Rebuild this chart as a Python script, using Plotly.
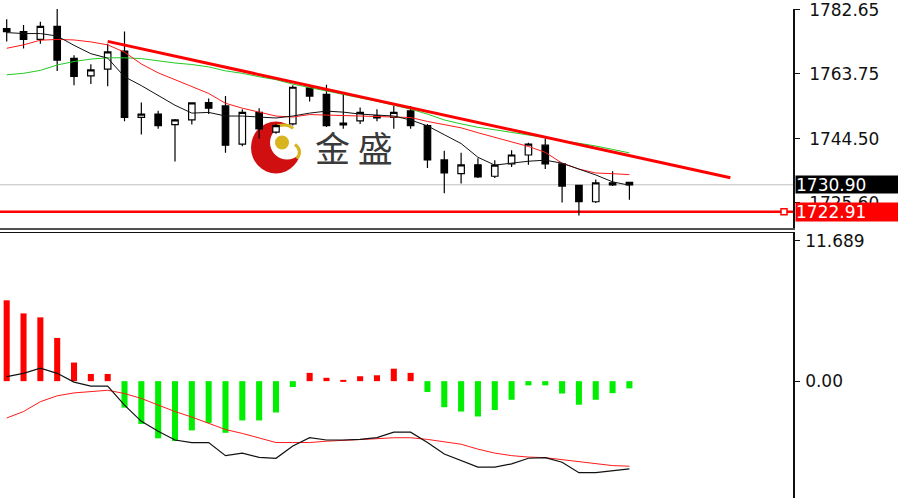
import plotly.graph_objects as go

W, H = 898, 498
PLOT_W = 793          # right edge of the plotting area (price axis line)
UPPER_BOTTOM = 223    # px, bottom of price panel
LOWER_TOP = 228       # px, top of MACD panel

# ---------------- data ----------------
bars = list(range(38))

open_ = [1777.12, 1776.25, 1773.93, 1777.79, 1768.32, 1763.17, 1765.12, 1770.44,
         1750.87, 1751.83, 1748.72, 1750.09, 1755.23, 1754.25, 1742.91, 1752.33,
         1746.51, 1748.93, 1759.59, 1757.65, 1749.13, 1749.80, 1751.34, 1750.87,
         1752.79, 1748.43, 1738.26, 1734.19, 1736.80, 1733.43, 1737.09, 1739.71,
         1742.62, 1737.09, 1730.70, 1725.87, 1731.48, 1731.60]
high = [1779.94, 1778.20, 1779.16, 1786.14, 1769.27, 1766.57, 1772.68, 1776.25,
        1755.23, 1752.79, 1750.38, 1755.30, 1756.48, 1757.15, 1753.29, 1753.58,
        1748.93, 1760.35, 1760.35, 1760.55, 1758.23, 1753.78, 1753.29, 1754.25,
        1754.25, 1748.93, 1740.99, 1740.41, 1738.75, 1738.20, 1741.16, 1743.32,
        1744.57, 1737.30, 1730.90, 1732.44, 1734.88, 1731.69]
low = [1773.34, 1771.22, 1772.68, 1764.62, 1760.35, 1760.76, 1760.06, 1749.71,
       1745.82, 1747.47, 1737.79, 1748.72, 1751.83, 1740.41, 1742.30, 1744.57,
       1746.02, 1748.43, 1755.52, 1747.97, 1747.47, 1748.93, 1749.71, 1747.47,
       1747.47, 1735.84, 1728.37, 1731.28, 1732.94, 1732.94, 1736.14, 1736.80,
       1735.55, 1725.67, 1721.80, 1725.47, 1730.52, 1726.45]
close = [1776.25, 1773.93, 1777.79, 1767.82, 1762.97, 1764.91, 1770.23, 1750.87,
         1751.83, 1748.43, 1750.09, 1755.12, 1753.58, 1742.62, 1752.33, 1747.47,
         1748.43, 1759.77, 1757.15, 1748.43, 1748.64, 1752.33, 1750.67, 1752.33,
         1748.43, 1738.26, 1734.39, 1736.80, 1733.23, 1736.70, 1739.71, 1742.91,
         1737.09, 1730.52, 1725.87, 1731.48, 1730.90, 1730.90]

ma_black = [1775.96, 1775.67, 1775.67, 1774.94, 1772.18, 1769.71, 1768.40, 1762.88,
            1760.26, 1757.36, 1754.45, 1752.12, 1752.33, 1751.25, 1751.25, 1750.96,
            1750.67, 1751.25, 1752.12, 1752.71, 1752.41, 1751.83, 1751.54, 1751.25,
            1750.09, 1748.34, 1745.73, 1743.11, 1739.04, 1736.72, 1737.30, 1737.88,
            1738.17, 1737.30, 1735.55, 1733.81, 1731.77, 1730.76]
ma_red = [1771.31, 1772.33, 1773.70, 1773.93, 1773.78, 1773.20, 1772.33, 1770.15,
          1766.66, 1764.04, 1762.01, 1759.97, 1757.94, 1755.03, 1753.58, 1752.41,
          1751.25, 1750.96, 1751.69, 1751.54, 1751.40, 1751.11, 1750.96, 1750.87,
          1750.82, 1749.65, 1748.64, 1747.76, 1746.31, 1745.00, 1743.69, 1742.24,
          1740.50, 1737.30, 1735.55, 1734.39, 1734.19, 1733.90]
ma_green = [1763.46, 1763.90, 1764.77, 1766.37, 1767.39, 1768.11, 1768.49, 1768.49,
            1768.26, 1767.53, 1766.95, 1766.51, 1765.79, 1764.62, 1763.90, 1762.88,
            1762.01, 1760.70, 1759.68, 1758.66, 1757.79, 1756.77, 1755.61, 1754.45,
            1753.29, 1751.83, 1750.09, 1748.93, 1747.91, 1747.18, 1746.46, 1745.73,
            1744.86, 1743.98, 1743.26, 1742.39, 1741.37, 1740.35]

trend_x = [6, 43]
trend_y = [1773.35, 1733.00]

bid_price = 1730.90
level_price = 1722.91

macd_hist = [6.73, 5.64, 5.31, 3.60, 1.55, 0.60, 0.60, -2.20, -3.56, -4.76, -4.98,
             -4.10, -3.48, -4.30, -3.27, -3.27, -2.61, -0.49, 0.69, 0.28, 0.06,
             0.41, 0.49, 1.04, 0.69, -0.90, -2.17, -2.53, -2.94, -2.40, -1.55,
             -0.35, -0.35, -1.03, -1.96, -1.55, -1.00, -0.60]
macd_line = [0.38, 0.65, 1.09, 0.65, -0.08, -0.41, -0.41, -1.99, -3.35, -4.17, -4.90,
             -5.11, -5.11, -6.20, -6.00, -6.34, -6.42, -5.39, -4.70, -4.90, -4.90,
             -4.85, -4.70, -4.25, -4.25, -5.11, -6.07, -6.62, -7.16, -7.16, -6.89,
             -6.42, -6.37, -6.75, -7.62, -7.62, -7.48, -7.30]
macd_signal = [-3.07, -2.53, -1.71, -1.22, -0.98, -0.84, -0.76, -1.03, -1.44, -1.99,
               -2.53, -2.99, -3.48, -4.03, -4.35, -4.71, -5.11, -5.11, -5.11, -5.00,
               -4.95, -4.90, -4.79, -4.71, -4.71, -4.85, -5.06, -5.25, -5.66, -5.99,
               -6.20, -6.32, -6.37, -6.54, -6.75, -6.89, -7.03, -7.08]

price_ticks = [1782.65, 1763.75, 1744.50, 1725.60]
price_tick_text = ["1782.65", "1763.75", "1744.50", "1725.60"]
macd_ticks = [11.689, 0.0]
macd_tick_text = ["11.689", "0.00"]

# ---------------- figure ----------------
fig = go.Figure()

fig.add_trace(go.Scatter(x=bars, y=ma_green, mode="lines",
                         line=dict(color="#22cc22", width=1), xaxis="x", yaxis="y",
                         hoverinfo="skip"))
fig.add_trace(go.Scatter(x=bars, y=ma_red, mode="lines",
                         line=dict(color="#ff1a1a", width=1), xaxis="x", yaxis="y",
                         hoverinfo="skip"))
fig.add_trace(go.Scatter(x=bars, y=ma_black, mode="lines",
                         line=dict(color="#111111", width=1), xaxis="x", yaxis="y",
                         hoverinfo="skip"))
fig.add_trace(go.Candlestick(
    x=bars, open=open_, high=high, low=low, close=close,
    increasing=dict(line=dict(color="black", width=1.2), fillcolor="white"),
    decreasing=dict(line=dict(color="black", width=1.2), fillcolor="black"),
    whiskerwidth=0, xaxis="x", yaxis="y"))
fig.add_trace(go.Scatter(x=trend_x, y=trend_y, mode="lines",
                         line=dict(color="#ff0000", width=3), xaxis="x", yaxis="y",
                         hoverinfo="skip"))

hist_colors = ["#ff0000" if v >= 0 else "#00ee00" for v in macd_hist]
fig.add_trace(go.Bar(x=bars, y=macd_hist, marker=dict(color=hist_colors, line=dict(width=0)),
                     width=0.36, xaxis="x2", yaxis="y2"))
fig.add_trace(go.Scatter(x=bars, y=macd_signal, mode="lines",
                         line=dict(color="#ff1a1a", width=1), xaxis="x2", yaxis="y2"))
fig.add_trace(go.Scatter(x=bars, y=macd_line, mode="lines",
                         line=dict(color="#111111", width=1.2), xaxis="x2", yaxis="y2"))

# pixel helpers for layout decoration
def px(xp):
    return xp / PLOT_W

def py(yp):
    return 1 - yp / H

x_lo = -6.7 / 16.83
x_hi = (PLOT_W - 6.7) / 16.83
p_scale = 0.2907
p_hi = 1782.65 + 1 * p_scale
p_lo = 1782.65 - (UPPER_BOTTOM - 1) * p_scale
m_scale = 11.689 / 143.0
m_hi = 11.689 + (236 - LOWER_TOP) * m_scale
m_lo = -(H - 379) * m_scale

tickfont = dict(family="DejaVu Sans", size=17, color="#111111")

shapes = [
    # bid line
    dict(type="line", xref="paper", x0=0, x1=1, yref="y", y0=bid_price, y1=bid_price,
         line=dict(color="#c0c0c0", width=1), layer="below"),
    # horizontal level
    dict(type="line", xref="paper", x0=0, x1=1, yref="y", y0=level_price, y1=level_price,
         line=dict(color="#ff0000", width=2.5), layer="below"),
    dict(type="rect", xref="paper", xsizemode="pixel", xanchor=px(784), x0=-3, x1=3,
         yref="y", ysizemode="pixel", yanchor=level_price, y0=-3, y1=3,
         line=dict(color="#ff0000", width=1.5), fillcolor="white", layer="above"),
    # logo
    dict(type="circle", xref="paper", yref="paper", xsizemode="pixel", ysizemode="pixel",
         xanchor=px(276), yanchor=py(141), x0=-25, x1=25, y0=-26, y1=26,
         fillcolor="#d01010", line=dict(width=0), layer="below"),
    dict(type="circle", xref="paper", yref="paper", xsizemode="pixel", ysizemode="pixel",
         xanchor=px(287), yanchor=py(136), x0=-17, x1=17, y0=-17, y1=17,
         fillcolor="white", line=dict(width=0), layer="below"),
    dict(type="circle", xref="paper", yref="paper", xsizemode="pixel", ysizemode="pixel",
         xanchor=px(282), yanchor=py(136), x0=-7, x1=7, y0=-7, y1=7,
         fillcolor="#d8b41e", line=dict(width=0), layer="below"),
    dict(type="path", xref="paper", yref="paper", xsizemode="pixel", ysizemode="pixel",
         xanchor=px(287), yanchor=py(136),
         path="M 8,-2 Q 16,-8 10,-16", line=dict(color="#d8b41e", width=3), layer="below"),
    dict(type="path", xref="paper", yref="paper", xsizemode="pixel", ysizemode="pixel",
         xanchor=px(287), yanchor=py(136),
         path="M -12,16 Q 0,20 6,14", line=dict(color="#d8b41e", width=3), layer="below"),
]

annotations = [
    dict(text="金 盛", xref="paper", yref="paper", x=px(354), y=py(140),
         xanchor="center", yanchor="middle", showarrow=False,
         font=dict(family="Noto Sans CJK SC", size=35, color="#3a3a3a")),
    dict(text="1730.90", xref="paper", yref="y", x=px(795), y=bid_price,
         xanchor="left", yanchor="middle", showarrow=False, align="left",
         width=115, height=17, bgcolor="black", borderpad=0,
         font=dict(family="DejaVu Sans", size=17, color="white")),
    dict(text="1722.91", xref="paper", yref="y", x=px(795), y=level_price,
         xanchor="left", yanchor="middle", showarrow=False, align="left",
         width=115, height=18, bgcolor="#ff0000", borderpad=0,
         font=dict(family="DejaVu Sans", size=17, color="white")),
]

fig.update_layout(
    width=W, height=H,
    margin=dict(l=0, r=W - PLOT_W, t=0, b=0),
    paper_bgcolor="white", plot_bgcolor="white",
    showlegend=False, boxgap=0.45,
    xaxis=dict(domain=[0, 1], range=[x_lo, x_hi], anchor="y", showgrid=False,
               zeroline=False, showticklabels=False, ticks="", rangeslider=dict(visible=False),
               showline=True, linecolor="#505050", linewidth=2, side="bottom"),
    xaxis2=dict(domain=[0, 1], range=[x_lo, x_hi], anchor="y2", matches="x", showgrid=False,
                zeroline=False, showticklabels=False, ticks="",
                showline=True, linecolor="#111111", linewidth=1, side="top"),
    yaxis=dict(domain=[1 - UPPER_BOTTOM / H, 1], range=[p_lo, p_hi], side="right",
               anchor="x", showgrid=False, zeroline=False, showline=True,
               linecolor="#111111", linewidth=1.5, ticks="outside", ticklen=5,
               tickcolor="#111111", tickvals=price_ticks, ticktext=price_tick_text,
               tickfont=tickfont, ticklabelstandoff=6, ticklabeloverflow="allow"),
    yaxis2=dict(domain=[0, 1 - LOWER_TOP / H], range=[m_lo, m_hi], side="right",
                anchor="x2", showgrid=False, zeroline=False, showline=True,
                linecolor="#111111", linewidth=1.5, ticks="outside", ticklen=5,
                tickcolor="#111111", tickvals=macd_ticks, ticktext=macd_tick_text,
                tickfont=tickfont, ticklabelstandoff=2, ticklabeloverflow="allow"),
    shapes=shapes,
    annotations=annotations,
)

fig.write_html("out.html", config={"displayModeBar": False},
               post_script="document.body.style.margin='0';document.body.style.overflow='hidden';")
